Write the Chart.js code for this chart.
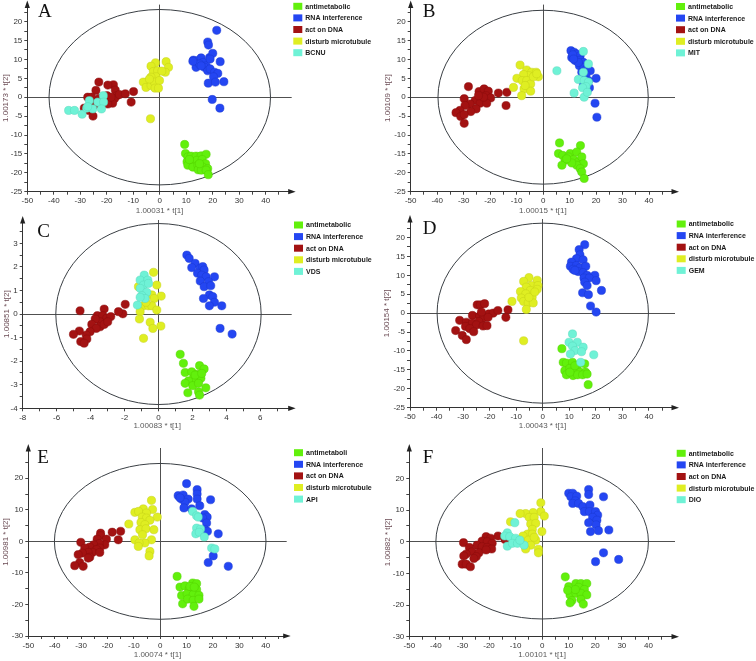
<!DOCTYPE html>
<html><head><meta charset="utf-8">
<script src="https://cdn.jsdelivr.net/npm/chart.js@4/dist/chart.umd.min.js"></script>
<style>
html,body{margin:0;padding:0;background:#fff;}
#wrap{position:relative;width:756px;height:661px;overflow:hidden;background:#fff;}
#wrap canvas{position:absolute;left:0;top:0;}
</style></head><body><div id="wrap">
<canvas id="cA" width="756" height="661"></canvas>
<canvas id="cB" width="756" height="661"></canvas>
<canvas id="cC" width="756" height="661"></canvas>
<canvas id="cD" width="756" height="661"></canvas>
<canvas id="cE" width="756" height="661"></canvas>
<canvas id="cF" width="756" height="661"></canvas>
</div>
<script>
// ---------------- DATA ----------------
const groupLabels = ['antimetabolic','RNA interference','act on DNA','disturb microtubule'];
const groupLabelsE = ['antimetaboli','RNA interference','act on DNA','disturb microtubule'];
const drugLabels = ['BCNU','MIT','VDS','GEM','API','DIO'];
const panelLetters = ['A','B','C','D','E','F'];
const xTitles = ['1.00031 * t[1]','1.00015 * t[1]','1.00083 * t[1]','1.00043 * t[1]','1.00074 * t[1]','1.00101 * t[1]'];
const yTitles = ['1.00173 * t[2]','1.00109 * t[2]','1.00851 * t[2]','1.00154 * t[2]','1.00981 * t[2]','1.00882 * t[2]'];

// ellipse semi-axes (t[1], t[2])
const ellipseRX = [41.8, 39.7, 6.05, 39.8, 40.1, 40.0];
const ellipseRY = [23.2, 23.0, 3.84, 23.8, 24.7, 24.4];

// tick labels
const xMajor50 = [-50,-40,-30,-20,-10,0,10,20,30,40];
const xMinor50 = [-45,-35,-25,-15,-5,5,15,25,35,45];
const yMajor25 = [-25,-20,-15,-10,-5,0,5,10,15,20];
const yMinor25 = [-22.5,-17.5,-12.5,-7.5,-2.5,2.5,7.5,12.5,17.5,22.5];
const yMajor30 = [-30,-20,-10,0,10,20];
const yMinor30 = [-25,-15,-5,5,15,25];
const xMajorC = [-8,-6,-4,-2,0,2,4,6];
const xMinorC = [-7,-5,-3,-1,1,3,5,7];
const yMajorC = [-4,-3,-2,-1,0,1,2,3];
const yMinorC = [-3.5,-2.5,-1.5,-0.5,0.5,1.5,2.5,3.5];

// Panel A
const A_anti = [[9.4,-12.5],[9.7,-14.9],[10.6,-15.8],[11.8,-15.6],[13.7,-15.6],[15.6,-15.5],[17.5,-15.1],[10.3,-17.1],[12.2,-17.1],[14.0,-16.7],[16.0,-16.5],[17.3,-17.6],[10.6,-18.0],[12.5,-18.5],[14.4,-18.0],[16.2,-18.5],[18.1,-18.9],[14.5,-19.2],[15.7,-19.3],[17.5,-19.3],[18.3,-20.5],[11.2,-16.5],[15.0,-17.6]];
const A_rna = [[21.5,17.7],[18.1,14.6],[18.4,13.8],[18.8,10.5],[20.0,11.6],[12.7,9.8],[14.4,9.7],[15.6,10.4],[16.4,9.2],[13.7,7.9],[17.5,8.3],[19.0,10.1],[22.8,9.4],[16.9,7.9],[18.1,7.0],[19.0,7.5],[20.7,6.6],[21.9,6.3],[20.3,5.4],[18.3,3.7],[21.0,4.0],[24.2,4.1],[19.8,-0.6],[22.7,-2.9],[15.0,8.8],[15.6,8.3],[12.5,9.5]];
const A_dna = [[-23.0,4.0],[-17.5,3.3],[-19.6,3.2],[-24.1,1.8],[-27.2,0],[-25.7,0],[-22.8,-0.3],[-21.5,0],[-19.9,0.4],[-16.8,1.9],[-16.2,0.4],[-17.1,-0.4],[-15.2,0.7],[-13.0,0.9],[-9.9,1.5],[-10.8,-1.3],[-19.0,-0.9],[-17.8,-1.6],[-19.6,-1.8],[-23.7,-1.6],[-24.9,-2.2],[-28.5,-2.9],[-26.8,-3.5],[-25.2,-5.0],[-21.5,-0.9],[-18.4,0]];
const A_micro = [[-1.6,9.1],[-3.3,8.2],[2.4,9.4],[3.3,7.9],[2.1,6.6],[-2.4,6.8],[-0.8,7.0],[0.8,6.9],[-1.4,5.4],[-3.3,5.3],[-4.8,4.0],[-6.2,4.0],[-5.2,2.6],[-3.3,3.1],[-2.0,4.0],[-0.1,4.4],[-1.8,2.4],[-0.5,2.4],[-3.9,4.8],[-3.5,-5.7]];
const A_drug = [[-34.4,-3.5],[-32.2,-3.5],[-29.3,-4.5],[-27.6,-2.9],[-26.6,-0.9],[-25.3,-3.1],[-23.4,-1.3],[-21.3,0.4],[-21.2,-1.3],[-22.0,-3.1],[-27.2,-2.5]];

// Panel B
const B_anti = [[6.2,-12.1],[14.1,-12.8],[5.8,-14.9],[7.4,-15.4],[10.2,-14.9],[12.7,-14.5],[9.6,-15.8],[11.5,-16.5],[13.4,-17.1],[14.6,-15.8],[15.2,-17.6],[8.3,-16.7],[7.1,-18.0],[12.7,-18.0],[14.0,-18.9],[14.6,-19.8],[15.5,-21.5],[10.8,-17.4],[8.9,-16.3]];
const B_rna = [[10.5,12.3],[11.7,11.9],[12.7,11.4],[14.0,11.0],[10.8,10.5],[12.1,9.7],[14.0,9.8],[15.2,9.2],[13.7,8.3],[15.2,7.9],[16.5,7.5],[17.8,7.0],[14.6,6.6],[16.2,6.0],[17.1,4.4],[15.2,3.5],[17.5,2.5],[20.0,5.0],[19.6,-1.6],[20.3,-5.3],[13.3,9.2],[11.2,11.2],[11.5,10.1]];
const B_dna = [[-28.2,2.8],[-24.2,1.5],[-22.3,2.2],[-20.7,1.6],[-16.9,1.1],[-13.7,1.3],[-21.5,0.4],[-19.8,-0.2],[-23.2,-0.4],[-29.8,-0.4],[-25.7,-0.9],[-23.8,-1.6],[-21.3,-1.6],[-27.6,-1.8],[-29.5,-2.2],[-25.3,-3.1],[-27.3,-3.8],[-31.4,-3.5],[-32.9,-4.1],[-31.1,-5.1],[-29.8,-4.6],[-29.8,-6.9],[-14.0,-2.2],[-22.5,0],[-24.4,0.4]];
const B_micro = [[-8.7,8.5],[-6.2,7.2],[-4.3,6.6],[-2.6,6.6],[-1.8,5.4],[-5.5,5.7],[-7.4,6.0],[-9.9,5.0],[-7.9,4.4],[-6.2,4.4],[-4.7,3.5],[-11.2,2.6],[-7.2,2.2],[-4.7,1.6],[-8.1,0.4],[-3.7,5.4],[-2.4,6.2],[-6.8,3.1]];
const B_drug = [[15.2,12.1],[17.1,8.8],[5.2,7.0],[15.2,6.6],[13.3,4.7],[15.5,4.4],[17.1,4.0],[16.2,2.8],[14.9,2.5],[11.7,1.1],[15.5,0],[16.7,1.3]];

// Panel C
const C_anti = [[1.28,-1.71],[1.47,-2.09],[1.57,-2.48],[1.96,-2.45],[2.42,-2.19],[2.69,-2.33],[2.26,-2.56],[2.50,-2.73],[2.06,-2.73],[1.77,-2.84],[1.57,-2.94],[2.02,-3.04],[2.36,-2.94],[2.79,-3.13],[2.36,-3.30],[1.73,-3.34],[2.42,-3.44],[2.16,-2.59],[2.55,-2.52]];
const C_rna = [[1.67,2.5],[1.81,2.36],[2.16,2.15],[1.96,1.97],[2.46,1.94],[2.61,2.01],[2.69,1.87],[2.30,1.73],[2.55,1.65],[2.81,1.58],[3.30,1.58],[2.46,1.40],[2.95,1.37],[2.69,1.16],[3.08,1.20],[3.0,0.81],[3.2,0.74],[3.30,0.50],[3.0,0.35],[3.73,0.35],[3.63,-0.61],[4.34,-0.85],[2.65,0.66]];
const C_dna = [[-1.96,0.41],[-2.10,0.01],[-2.36,0.10],[-3.2,0.21],[-4.62,0.14],[-3.6,-0.07],[-3.28,-0.07],[-3.05,-0.18],[-2.81,-0.11],[-3.44,-0.33],[-3.73,-0.21],[-3.93,-0.44],[-3.44,-0.54],[-3.67,-0.61],[-4.03,-0.75],[-4.26,-0.89],[-4.66,-0.72],[-5.01,-0.86],[-4.22,-1.06],[-4.58,-1.17],[-4.38,-1.24],[-3.2,-0.44],[-2.99,-0.33]];
const C_micro = [[-0.29,1.77],[-1.18,1.16],[-0.10,1.23],[-0.39,0.81],[0.16,0.76],[-0.25,0.66],[-0.88,0.35],[-0.59,0.35],[-0.39,0.35],[-1.08,0.10],[-0.10,0.17],[-1.12,-0.21],[-0.49,-0.35],[0.14,-0.51],[-0.33,-0.61],[-0.88,-1.03],[-0.73,0.50]];
const C_drug = [[-0.84,1.65],[-1.08,1.44],[-0.63,1.44],[-0.88,1.23],[-1.08,1.09],[-0.69,0.92],[-0.98,0.78],[-0.79,0.66],[-1.24,0.38],[-1.08,0.71],[-0.59,1.30]];

// Panel D
const D_anti = [[7.2,-9.4],[7.7,-13.0],[8.9,-13.2],[11.2,-13.0],[13.0,-14.0],[15.8,-13.4],[8.3,-15.2],[10.2,-14.6],[12.1,-14.9],[14.0,-15.6],[16.1,-15.6],[8.9,-16.3],[11.4,-16.5],[13.1,-16.3],[15.0,-16.3],[16.7,-16.1],[17.1,-18.9],[10.2,-15.6],[12.1,-13.9]];
const D_rna = [[15.8,18.1],[13.7,16.8],[14.0,15.4],[12.7,14.4],[15.2,14.1],[10.8,13.5],[10.4,12.4],[12.7,12.6],[14.0,12.0],[16.2,12.4],[11.4,11.6],[13.3,11.0],[15.2,10.7],[16.7,10.0],[19.6,10.0],[15.5,9.3],[17.5,9.3],[20.1,8.6],[15.8,8.2],[16.7,7.3],[22.1,6.0],[15.0,5.4],[17.2,4.9],[18.0,1.9],[20.1,0.3],[12.1,11.3]];
const D_dna = [[-24.7,2.2],[-23.5,2.2],[-21.9,2.5],[-26.5,-0.6],[-20.3,-0.2],[-18.7,0],[-16.9,0.7],[-13.1,0.9],[-13.9,-1.1],[-23.8,-0.8],[-22.3,-1.3],[-20.6,-1.1],[-31.3,-1.9],[-28.8,-2.4],[-26.5,-2.6],[-24.1,-2.2],[-25.0,-3.1],[-22.5,-3.4],[-21.0,-3.3],[-29.1,-3.5],[-27.5,-4.1],[-26.0,-4.9],[-32.8,-4.6],[-30.3,-5.9],[-28.8,-7.0],[-23.1,0.3]];
const D_micro = [[-5.2,9.4],[-7.2,8.4],[-2.1,8.7],[-4.3,7.3],[-6.2,6.9],[-1.8,7.3],[-2.1,6.3],[-8.4,5.7],[-4.7,6.0],[-6.4,5.1],[-4.0,4.2],[-8.1,4.0],[-7.2,3.1],[-5.5,2.7],[-3.6,2.7],[-11.6,3.1],[-6.2,1.0],[-7.2,-7.3],[-5.2,4.2],[-3.0,5.6]];
const D_drug = [[11.2,-5.5],[9.9,-7.7],[13.0,-7.7],[11.2,-8.7],[15.2,-9.0],[12.1,-9.9],[14.6,-10.2],[10.4,-10.8],[19.2,-11.0],[14.3,-13.0]];

// Panel E
const E_anti = [[6.4,-11.1],[7.5,-14.5],[9.4,-14.1],[12.3,-13.2],[13.8,-13.4],[11.0,-15.1],[13.8,-15.3],[8.1,-17.2],[10.2,-16.6],[12.5,-16.9],[14.7,-17.1],[8.5,-19.8],[10.4,-18.3],[12.5,-18.7],[14.7,-18.3],[12.8,-20.6],[11.3,-14.3],[12.9,-14.5]];
const E_rna = [[10.0,18.3],[14.0,16.4],[14.0,15.0],[6.8,14.5],[8.7,14.7],[8.1,13.4],[10.6,13.4],[14.0,13.4],[19.1,13.2],[9.4,12.4],[15.0,11.3],[9.0,10.6],[11.9,10.3],[16.9,8.5],[17.8,7.7],[16.1,7.4],[17.6,5.8],[16.9,3.7],[17.9,3.2],[22.0,2.4],[20.1,-4.6],[18.2,-6.7],[25.8,-7.9],[7.5,13.8]];
const E_dna = [[-22.6,2.6],[-18.2,2.9],[-15.0,3.2],[-30.1,-0.3],[-22.6,1.8],[-23.9,0.7],[-20.4,0.7],[-15.9,0.5],[-21.0,-1.1],[-23.1,-0.7],[-25.2,-1.1],[-26.7,-1.8],[-28.6,-2.1],[-22.9,-2.1],[-24.1,-2.6],[-25.7,-3.5],[-27.3,-3.5],[-22.9,-3.5],[-29.5,-3.7],[-31.1,-4.2],[-26.7,-5.0],[-27.3,-5.3],[-30.5,-6.7],[-32.4,-7.7],[-29.2,-7.9]];
const E_micro = [[-3.3,13.0],[-2.9,10.1],[-9.6,9.2],[-6.4,10.3],[-8.2,9.5],[-5.2,9.0],[-1.1,7.7],[-6.8,7.7],[-5.2,7.4],[-7.3,6.0],[-3.9,6.7],[-5.8,5.3],[-11.9,5.5],[-7.7,3.7],[-5.4,4.0],[-2.4,3.7],[-6.7,2.1],[-3.3,0.5],[-9.6,0.5],[-5.8,-0.5],[-8.0,-0.5],[-3.9,-3.2],[-4.2,-4.6],[-8.3,-1.6]];
const E_drug = [[12.3,9.5],[13.8,8.1],[14.4,7.7],[13.8,4.2],[15.3,3.9],[13.5,2.4],[14.8,2.9],[16.7,1.4],[19.5,-2.1],[20.7,-2.4]];

// Panel F
const F_anti = [[8.7,-11.1],[10.0,-14.2],[12.7,-13.2],[14.6,-13.2],[16.8,-13.2],[13.7,-14.4],[15.9,-15.1],[10.5,-16.8],[12.7,-16.3],[14.6,-16.3],[16.8,-16.8],[11.2,-18.6],[14.6,-18.2],[15.5,-19.7],[10.5,-19.3],[12.5,-15.1],[9.6,-15.3]];
const F_rna = [[17.5,16.5],[17.5,14.9],[23.1,14.2],[10.0,15.3],[11.5,15.3],[10.8,14.2],[13.0,14.4],[12.5,12.9],[11.5,12.1],[13.7,12.1],[15.3,11.1],[18.0,11.6],[15.9,9.5],[17.8,9.5],[20.1,9.5],[20.9,8.4],[19.0,7.7],[20.6,6.8],[17.5,6.0],[20.3,5.3],[25.1,3.7],[18.2,3.2],[21.2,3.5],[23.1,-3.5],[20.1,-6.3],[28.8,-5.6]];
const F_dna = [[-21.1,1.6],[-19.4,1.1],[-16.6,1.8],[-14.0,0.7],[-29.6,-0.3],[-22.6,0.2],[-20.7,0],[-18.8,-0.5],[-24.5,-1.1],[-22.6,-1.6],[-20.7,-1.8],[-27.4,-1.8],[-19.0,-2.3],[-26.4,-3.2],[-23.8,-3.5],[-21.1,-2.6],[-28.6,-3.9],[-29.5,-4.5],[-24.8,-4.7],[-25.7,-5.3],[-30.1,-7.1],[-28.6,-7.1],[-27.0,-7.9]];
const F_micro = [[-0.5,12.3],[-0.5,9.5],[0.8,8.1],[-3.4,9.2],[-6.2,8.9],[-8.3,8.9],[-4.9,7.7],[-3.0,7.7],[-11.9,6.3],[-4.3,5.6],[-2.4,5.8],[-3.7,3.9],[-0.1,3.2],[-5.5,2.4],[-7.2,1.8],[-3.7,2.4],[-2.4,0.5],[-5.2,0.5],[-4.3,-1.1],[-6.2,-2.3],[-1.4,-2.4],[-1.4,-3.5],[-3.0,1.4]];
const F_drug = [[-10.3,6.0],[-13.1,2.8],[-14.1,1.8],[-12.2,1.6],[-10.0,1.1],[-13.1,-1.4],[-11.2,-0.5],[-9.3,-0.5],[-6.8,-1.1],[-8.4,0.5]];

// ---------------- STYLE / LAYOUT ----------------
const fillColors = ['#62f00c','#2446f2','#a31212','#dfee22','#6ff2d6'];
const edgeColors = ['#52d000','#1a38d0','#8a0c0c','#c4d018','#58d8bc'];

const panelData = [
  [A_anti,A_rna,A_dna,A_micro,A_drug],
  [B_anti,B_rna,B_dna,B_micro,B_drug],
  [C_anti,C_rna,C_dna,C_micro,C_drug],
  [D_anti,D_rna,D_dna,D_micro,D_drug],
  [E_anti,E_rna,E_dna,E_micro,E_drug],
  [F_anti,F_rna,F_dna,F_micro,F_drug]
];

const layout = [
  {L:27.3,R:291.7,T:4,B:191.7,ytx:5.7,xty:211,xr:[-50,49.8],yr:[-25,24.5],xM:xMajor50,xm:xMinor50,yM:yMajor25,ym:yMinor25,lg:[293.3,6.3],lt:[38,17]},
  {L:410.7,R:675,T:4,B:191.7,ytx:387.3,xty:210.7,xr:[-50,49.8],yr:[-25,24.5],xM:xMajor50,xm:xMinor50,yM:yMajor25,ym:yMinor25,lg:[676,6.5],lt:[422.7,17]},
  {L:22.7,R:291.7,T:220,B:408.3,ytx:6.7,xty:425.7,xr:[-8,7.85],yr:[-4,3.99],xM:xMajorC,xm:xMinorC,yM:yMajorC,ym:yMinorC,lg:[294,225],lt:[37.3,236.7]},
  {L:410,R:675,T:219,B:407.7,ytx:386.7,xty:425.7,xr:[-50,49.8],yr:[-25,24.9],xM:xMajor50,xm:xMinor50,yM:yMajor25,ym:yMinor25,lg:[676.7,224],lt:[422.7,234.3]},
  {L:28.3,R:286.7,T:448,B:636,ytx:6,xty:655,xr:[-50,47.95],yr:[-30,29.6],xM:xMajor50,xm:xMinor50,yM:yMajor30,ym:yMinor30,lg:[294,452.7],lt:[37.3,463]},
  {L:409.3,R:675,T:448,B:636.7,ytx:387.3,xty:655,xr:[-50,50.0],yr:[-30,29.6],xM:xMajor50,xm:xMinor50,yM:yMajor30,ym:yMinor30,lg:[676.7,453.3],lt:[422.7,463.3]}
];

Chart.defaults.font.family = '"Liberation Sans", Arial, sans-serif';
Chart.defaults.font.size = 8;
Chart.defaults.color = '#333';

const decor = {
  id: 'decor',
  beforeDatasetsDraw(chart, args, o) {
    const {ctx, scales:{x, y}} = chart;
    const cx = x.getPixelForValue(0), cy = y.getPixelForValue(0);
    const rx = Math.abs(x.getPixelForValue(o.rx) - cx);
    const ry = Math.abs(y.getPixelForValue(o.ry) - cy);
    ctx.save();
    ctx.beginPath();
    ctx.ellipse(cx, cy, rx, ry, 0, 0, Math.PI * 2);
    ctx.strokeStyle = '#3a3f44';
    ctx.lineWidth = 1;
    ctx.stroke();
    ctx.restore();
  },
  afterDraw(chart, args, o) {
    const {ctx, chartArea:{left, right, top, bottom}} = chart;
    ctx.save();
    ctx.fillStyle = '#222';
    ctx.beginPath();
    ctx.moveTo(left, top - 4); ctx.lineTo(left - 2.6, top + 3.5); ctx.lineTo(left + 2.6, top + 3.5);
    ctx.closePath(); ctx.fill();
    ctx.beginPath();
    ctx.moveTo(right + 4, bottom); ctx.lineTo(right - 3.5, bottom - 2.6); ctx.lineTo(right - 3.5, bottom + 2.6);
    ctx.closePath(); ctx.fill();
    // panel letter
    ctx.font = '19px "Liberation Serif", "Times New Roman", serif';
    ctx.fillStyle = '#111';
    ctx.textBaseline = 'alphabetic';
    ctx.textAlign = 'left';
    ctx.fillText(o.letter, o.lt[0], o.lt[1]);
    // legend
    ctx.font = 'bold 7px "Liberation Sans", Arial, sans-serif';
    ctx.textBaseline = 'middle';
    chart.data.datasets.forEach((ds, i) => {
      const yy = o.lg[1] + i * 11.6;
      ctx.fillStyle = ds.backgroundColor;
      ctx.fillRect(o.lg[0], yy - 3.5, 9, 7);
      ctx.fillStyle = '#1a1a1a';
      ctx.fillText(ds.label, o.lg[0] + 12, yy + 0.5);
    });
    ctx.restore();
  }
};

function buildChart(idx) {
  const lay = layout[idx];
  const labels = (idx === 4 ? groupLabelsE : groupLabels).concat([drugLabels[idx]]);
  const datasets = panelData[idx].map((pts, g) => ({
    label: labels[g],
    data: pts.map(p => ({x: p[0], y: p[1]})),
    backgroundColor: fillColors[g],
    borderColor: edgeColors[g],
    borderWidth: 0.5,
    pointRadius: 4.1,
    order: 5 - g
  }));
  const xTickVals = lay.xM.concat(lay.xm).filter(v => v >= lay.xr[0] && v <= lay.xr[1]).sort((a,b)=>a-b);
  const yTickVals = lay.yM.concat(lay.ym).filter(v => v >= lay.yr[0] && v <= lay.yr[1]).sort((a,b)=>a-b);
  const padLeft = lay.ytx - 4.8;
  const Wy = lay.L - padLeft;
  const Hx = lay.xty - lay.B + 4.8;
  const padBottom = 661 - lay.B - Hx;
  new Chart(document.getElementById('c' + panelLetters[idx]), {
    type: 'scatter',
    data: {datasets},
    plugins: [decor],
    options: {
      responsive: false,
      animation: false,
      events: [],
      layout: {padding: {left: padLeft, top: lay.T, right: 756 - lay.R, bottom: padBottom}},
      plugins: {
        legend: {display: false},
        tooltip: {enabled: false},
        decor: {rx: ellipseRX[idx], ry: ellipseRY[idx], letter: panelLetters[idx], lt: lay.lt, lg: lay.lg}
      },
      scales: {
        x: {
          type: 'linear', position: 'bottom',
          min: lay.xr[0], max: lay.xr[1],
          afterBuildTicks: s => { s.ticks = xTickVals.map(v => ({value: v})); },
          afterFit: s => { s.height = Hx; s.paddingLeft = 0; s.paddingRight = 0; },
          ticks: {autoSkip: false, maxRotation: 0, padding: 1.5, color: '#333', font: {size: 8},
            callback: v => lay.xM.includes(v) ? String(v) : ''},
          grid: {color: c => (c.tick && c.tick.value === 0) ? '#505050' : 'rgba(0,0,0,0)', lineWidth: 1, tickColor: '#444', tickLength: 3, drawTicks: true},
          border: {display: true, color: '#333', width: 1},
          title: {display: true, text: xTitles[idx], color: '#5a5a5a', font: {size: 8}, padding: 0}
        },
        y: {
          type: 'linear', position: 'left',
          min: lay.yr[0], max: lay.yr[1],
          afterBuildTicks: s => { s.ticks = yTickVals.map(v => ({value: v})); },
          afterFit: s => { s.width = Wy; s.paddingTop = 0; s.paddingBottom = 0; },
          ticks: {autoSkip: false, padding: 2, color: '#333', font: {size: 8},
            callback: v => lay.yM.includes(v) ? String(v) : ''},
          grid: {color: c => (c.tick && c.tick.value === 0) ? '#505050' : 'rgba(0,0,0,0)', lineWidth: 1, tickColor: '#444', tickLength: 3, drawTicks: true},
          border: {display: true, color: '#333', width: 1},
          title: {display: true, text: yTitles[idx], color: '#6b4c55', font: {size: 8}, padding: 0}
        }
      }
    }
  });
}
for (let i = 0; i < 6; i++) buildChart(i);
</script>
</body></html>
